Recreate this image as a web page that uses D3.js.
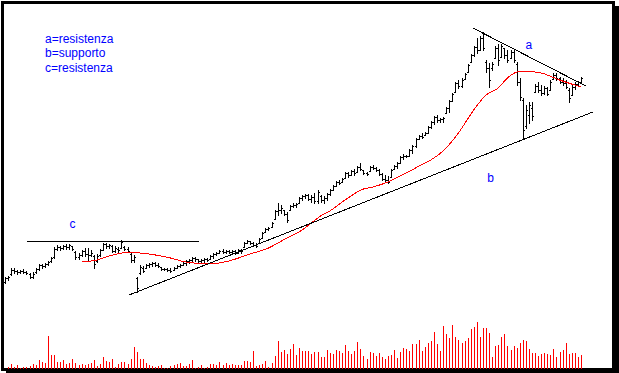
<!DOCTYPE html>
<head>
  <meta charset="utf-8">
  <style>
    body { margin: 0; background: #fff; }
    svg text {
      font-family: Arial, 'Liberation Sans', sans-serif;
      font-size: 12px;
      fill: #0000ff;
    }
  </style>
</head>

<body>
  <script src="https://cdn.jsdelivr.net/npm/d3@7"></script>

  <script>
    const width = 619;
    const height = 373;

    // daily bars, price in arbitrary units (no axis on the original)
    const high = [
      2.3,2.4,3.2,3.2,3.0,3.0,3.1,2.9,2.7,2.8, 3.2,3.6,3.6,3.7,3.9,4.3,5.3,5.5,5.4,5.5,
      5.6,5.6,5.4,4.9,4.7,5.0,5.2,5.2,5.0,4.5, 4.6,5.1,5.7,5.7,5.6,5.5,5.4,5.3,6.0,5.4,
      5.3,4.7,4.5,2.3,3.5,3.4,3.6,3.7,3.8,3.8, 3.7,3.3,3.2,3.2,3.2,3.3,3.5,3.6,3.8,4.0,
      4.1,4.3,4.3,4.1,4.1,4.2,4.2,4.5,4.7,4.8, 5.0,5.1,5.0,5.0,5.0,5.0,5.1,5.1,5.8,6.0,
      5.9,5.8,5.7,6.2,6.8,7.2,7.3,7.8,9.0,9.7, 9.5,9.0,8.8,9.5,9.7,9.7,10.3,10.5,10.6,10.6,
      10.5,10.7,11.0,10.5,10.4,10.7,11.1,11.5,11.9,12.0, 12.2,12.8,12.8,13.0,13.1,13.4,13.7,13.0,12.8,13.4,
      13.5,13.3,13.1,12.7,12.5,12.4,13.1,13.5,13.8,14.4, 14.6,14.5,15.1,15.5,16.2,16.5,16.7,16.8,17.4,17.9,
      18.4,18.5,18.2,18.3,19.3,20.0,20.7,21.8,22.0,22.2, 22.7,23.6,24.6,25.4,26.2,26.4,26.8,24.0,23.7,23.8,
      25.4,25.6,25.6,25.2,25.0,25.0,25.0,23.8,22.2,20.2, 19.5,19.8,19.8,21.6,21.8,21.5,21.4,21.3,22.0,22.7,
      22.7,22.3,22.2,22.0,21.2,21.5,21.8,21.9,22.3
    ];
    const low = [
      1.7,2.0,2.5,2.7,2.6,2.7,2.7,2.6,2.2,2.2, 2.7,3.0,3.2,3.3,3.5,3.8,4.2,5.0,5.0,5.1,
      5.1,5.1,5.0,4.1,4.1,4.4,4.4,4.0,4.4,3.2, 3.8,4.4,5.0,5.2,5.2,4.8,4.8,4.8,5.2,5.0,
      4.8,3.8,3.8,0.8,2.6,2.8,3.2,3.3,3.4,3.4, 3.3,3.0,3.0,2.9,2.8,3.0,3.2,3.3,3.5,3.5,
      3.7,3.9,3.9,3.8,3.8,3.8,3.9,4.1,4.2,4.5, 4.7,4.7,4.7,4.7,4.7,4.6,4.7,4.7,5.3,5.7,
      5.6,5.4,5.3,5.7,6.2,6.8,7.0,7.3,8.1,8.5, 8.7,8.5,7.8,9.0,9.3,9.3,9.7,10.0,10.2,10.0,
      9.8,9.7,9.7,9.8,9.7,10.0,10.5,11.0,11.4,11.6, 11.8,12.2,12.3,12.5,12.5,12.8,13.0,12.6,12.5,12.9,
      13.1,12.9,12.5,12.0,11.8,11.7,12.3,13.1,13.2,13.7, 14.1,14.3,14.4,14.7,15.3,16.1,16.2,16.5,16.7,17.2,
      17.6,17.8,17.8,17.8,18.7,18.8,19.9,20.8,21.2,21.3, 22.1,22.8,23.8,24.4,24.7,25.0,25.0,22.8,21.3,23.0,
      24.2,23.5,24.3,24.2,23.8,24.2,23.8,21.5,20.0,16.2, 17.2,17.7,18.0,20.8,20.8,20.5,20.6,20.5,21.0,22.1,
      22.0,21.7,21.5,21.2,19.8,20.5,21.1,21.5,21.7
    ];
    const open = [
      1.8,2.2,2.6,3.0,2.9,2.8,2.9,2.8,2.6,2.3, 2.8,3.1,3.5,3.4,3.6,3.9,4.3,5.1,5.3,5.2,
      5.4,5.3,5.4,4.8,4.3,4.5,4.9,4.6,4.5,4.4, 3.9,4.5,5.0,5.6,5.4,5.4,4.9,5.1,5.2,5.3,
      5.1,4.6,4.0,2.2,2.7,3.2,3.2,3.5,3.6,3.7, 3.5,3.3,3.1,3.1,3.0,3.0,3.2,3.4,3.5,3.7,
      3.9,4.0,4.2,4.1,3.9,4.0,4.1,4.1,4.4,4.6, 4.7,4.9,4.8,4.9,4.8,4.9,4.7,5.0,5.3,5.7,
      5.9,5.7,5.5,5.7,6.2,6.8,7.1,7.3,8.1,8.9, 9.0,9.0,8.6,9.0,9.4,9.5,9.7,10.2,10.4,10.5,
      10.1,10.3,9.9,10.4,10.0,10.2,10.6,11.0,11.4,11.8, 11.8,12.2,12.7,12.5,12.9,12.8,13.3,13.0,12.7,12.9,
      13.3,13.2,13.0,12.6,12.1,12.0,12.3,13.1,13.4,13.7, 14.3,14.4,14.4,15.0,15.4,16.1,16.4,16.5,16.7,17.3,
      17.8,18.3,18.0,18.1,18.7,19.2,19.9,20.8,21.7,21.4, 22.1,22.8,23.8,24.5,25.3,25.0,26.2,23.8,23.2,23.2,
      24.2,25.2,24.3,25.2,24.5,24.2,24.8,23.6,21.8,20.0, 17.4,18.5,19.2,20.8,21.4,21.0,20.7,21.2,21.0,22.1,
      22.5,22.2,21.8,21.7,21.0,20.5,21.3,21.6,21.8
    ];
    const close = [
      2.2,2.3,3.0,2.9,2.8,2.9,2.8,2.7,2.3,2.6, 3.1,3.5,3.4,3.6,3.8,4.2,5.1,5.3,5.2,5.4,
      5.3,5.5,5.1,4.3,4.5,4.9,4.6,4.5,4.7,3.6, 4.4,5.0,5.6,5.4,5.5,4.9,5.2,5.0,5.8,5.1,
      4.9,4.0,4.3,1.2,3.3,2.9,3.5,3.6,3.7,3.5, 3.4,3.1,3.1,3.0,2.9,3.2,3.4,3.5,3.7,3.9,
      4.0,4.2,4.1,3.9,4.0,4.1,4.0,4.4,4.6,4.7, 4.9,4.8,4.9,4.8,4.9,4.7,5.0,4.9,5.7,5.9,
      5.7,5.5,5.4,6.1,6.7,7.1,7.2,7.7,8.9,9.0, 9.2,8.6,8.0,9.4,9.5,9.6,10.2,10.4,10.5,10.1,
      10.3,9.9,10.8,10.0,10.2,10.6,11.0,11.4,11.8,11.7, 12.1,12.7,12.5,12.9,12.7,13.3,13.1,12.7,12.6,13.3,
      13.2,13.0,12.6,12.1,12.0,11.8,13.0,13.4,13.7,14.3, 14.4,14.4,15.0,15.4,16.1,16.4,16.3,16.7,17.3,17.8,
      18.3,18.0,18.1,18.2,19.2,19.9,20.6,21.7,21.4,22.0, 22.6,23.5,24.5,25.3,25.0,26.2,25.2,23.2,22.0,23.6,
      25.2,24.0,25.4,24.5,24.0,24.8,24.0,21.8,20.3,17.0, 19.0,19.5,18.4,21.4,21.0,20.7,21.2,20.6,21.8,22.5,
      22.2,21.8,21.7,21.3,20.2,21.3,21.6,21.8,22.2
    ];
    const volume = [
      0,
      23,50,23,40,10,20,20,30,50,40, 90,70,60,330,140,140,70,70,90,50,
      60,100,60,40,50,40,50,60,90,30,50, 120,80,70,100,20,50,70,70,50,100,
      220,170,100,100,60,40,30,20,30,40,10, 10,30,40,50,60,30,30,50,90,10,
      20,40,10,20,50,50,40,70,40,60, 40,50,40,40,40,80,80,70,180,30,40,
      50,80,20,60,130,280,170,190,150,200, 250,140,210,180,180,180,150,170,170,120,
      120,190,160,150,190,180,160,240,180,150, 180,270,200,130,100,170,160,130,160,120,
      100,130,140,190,110,170,210,200,180,250, 250,290,180,220,260,280,370,250,180,430,
      350,310,440,320,290,260,280,310,400,420, 470,320,410,410,360,120,230,240,320,350,
      230,190,230,210,260,290,280,200,160,160, 130,150,160,150,140,200,120,170,190,260,
      150,160,160,120,140
    ];

    // moving average: bar index / value
    const maIndex = [25,30,34,41,44,47,54,59,67,73,80,86,92,96,100,103,106,111,117,120,125,129,134,137,139,144,148,153,157,161,164,167,169,175,181,188];
    const maValue = [3.8,4.0,4.4,4.8,4.7,4.6,4.2,3.8,3.6,3.9,4.6,5.2,6.2,6.8,7.7,8.4,8.9,10.0,11.1,11.3,11.8,12.4,13.2,13.7,14.0,15.2,16.7,19.0,20.5,21.2,22.2,22.8,22.9,22.7,22.0,21.3];

    // trend lines: [index, value] end points
    const lineA = [[152.7, 27.2], [189.6, 21.4]];
    const lineB = [[40.5, 0.5], [191.9, 18.8]];
    const lineC = [[7.2, 5.9], [63.3, 5.9]];

    const legendLines = ["a=resistenza", "b=supporto", "c=resistenza"];
    const tags = [
      { text: "a", i: 171, v: 25.1 },
      { text: "b", i: 158.5, v: 11.8 },
      { text: "c", i: 22, v: 7.2 }
    ];

    const xScale = d3.scaleLinear().domain([0, high.length - 1]).range([5, 581]);
    const yScale = d3.scaleLinear().domain([0, 30]).range([300, 0]);
    const vScale = d3.scaleLinear().domain([0, 500]).range([369, 319]);
    const px = i => Math.round(xScale(i)) + 0.5;
    const py = v => Math.round(yScale(v)) + 0.5;

    const svg = d3.select("body")
      .append("svg")
      .attr("width", width)
      .attr("height", height);

    // frame + drop shadow
    svg.append("rect")
      .attr("x", 6).attr("y", 6)
      .attr("width", width - 6).attr("height", height - 6)
      .attr("fill", "#000");
    svg.append("rect")
      .attr("x", 2.5).attr("y", 2.5)
      .attr("width", 611).attr("height", 367)
      .attr("fill", "#fff")
      .attr("stroke", "#000")
      .attr("stroke-width", 3);

    //---------------------------VOLUME---------------------------//
    svg.append("g").selectAll("line")
      .data(volume)
      .join("line")
      .attr("x1", (d, i) => px(i)).attr("x2", (d, i) => px(i))
      .attr("y1", vScale(0)).attr("y2", d => Math.round(vScale(d)))
      .attr("stroke", d => d > 0 ? "#ff0000" : "none")
      .attr("shape-rendering", "crispEdges");

    //----------------------------BARS----------------------------//
    const bars = svg.append("g")
      .attr("stroke", "#000")
      .attr("shape-rendering", "crispEdges");
    high.forEach((h, i) => {
      const x = Math.round(xScale(i));
      bars.append("line")
        .attr("x1", x + 0.5).attr("x2", x + 0.5)
        .attr("y1", Math.round(yScale(h))).attr("y2", Math.round(yScale(low[i])) + 1);
      bars.append("line")
        .attr("x1", x - 1).attr("x2", x)
        .attr("y1", py(open[i])).attr("y2", py(open[i]));
      bars.append("line")
        .attr("x1", x + 1).attr("x2", x + 2)
        .attr("y1", py(close[i])).attr("y2", py(close[i]));
    });

    //------------------------MOVING AVERAGE-----------------------//
    const maLine = d3.line()
      .x(d => xScale(d[0]))
      .y(d => yScale(d[1]))
      .curve(d3.curveMonotoneX);
    svg.append("path")
      .datum(maIndex.map((d, k) => [d, maValue[k]]))
      .attr("d", maLine)
      .attr("fill", "none")
      .attr("stroke", "#ff0000")
      .attr("stroke-width", 1)
      .attr("shape-rendering", "crispEdges");

    //-------------------------TREND LINES-------------------------//
    const straight = d3.line().x(d => xScale(d[0])).y(d => yScale(d[1]));
    [lineA, lineB, lineC].forEach(l => {
      svg.append("path")
        .attr("d", straight(l))
        .attr("fill", "none")
        .attr("stroke", "#000")
        .attr("stroke-width", 1)
        .attr("shape-rendering", "crispEdges");
    });

    //----------------------------TEXT-----------------------------//
    svg.append("g").selectAll("text")
      .data(legendLines)
      .join("text")
      .attr("x", 45)
      .attr("y", (d, i) => 43 + i * 14.3)
      .text(d => d);

    svg.append("g").selectAll("text")
      .data(tags)
      .join("text")
      .attr("x", d => xScale(d.i))
      .attr("y", d => yScale(d.v))
      .attr("text-anchor", "middle")
      .text(d => d.text);
  </script>
</body>
